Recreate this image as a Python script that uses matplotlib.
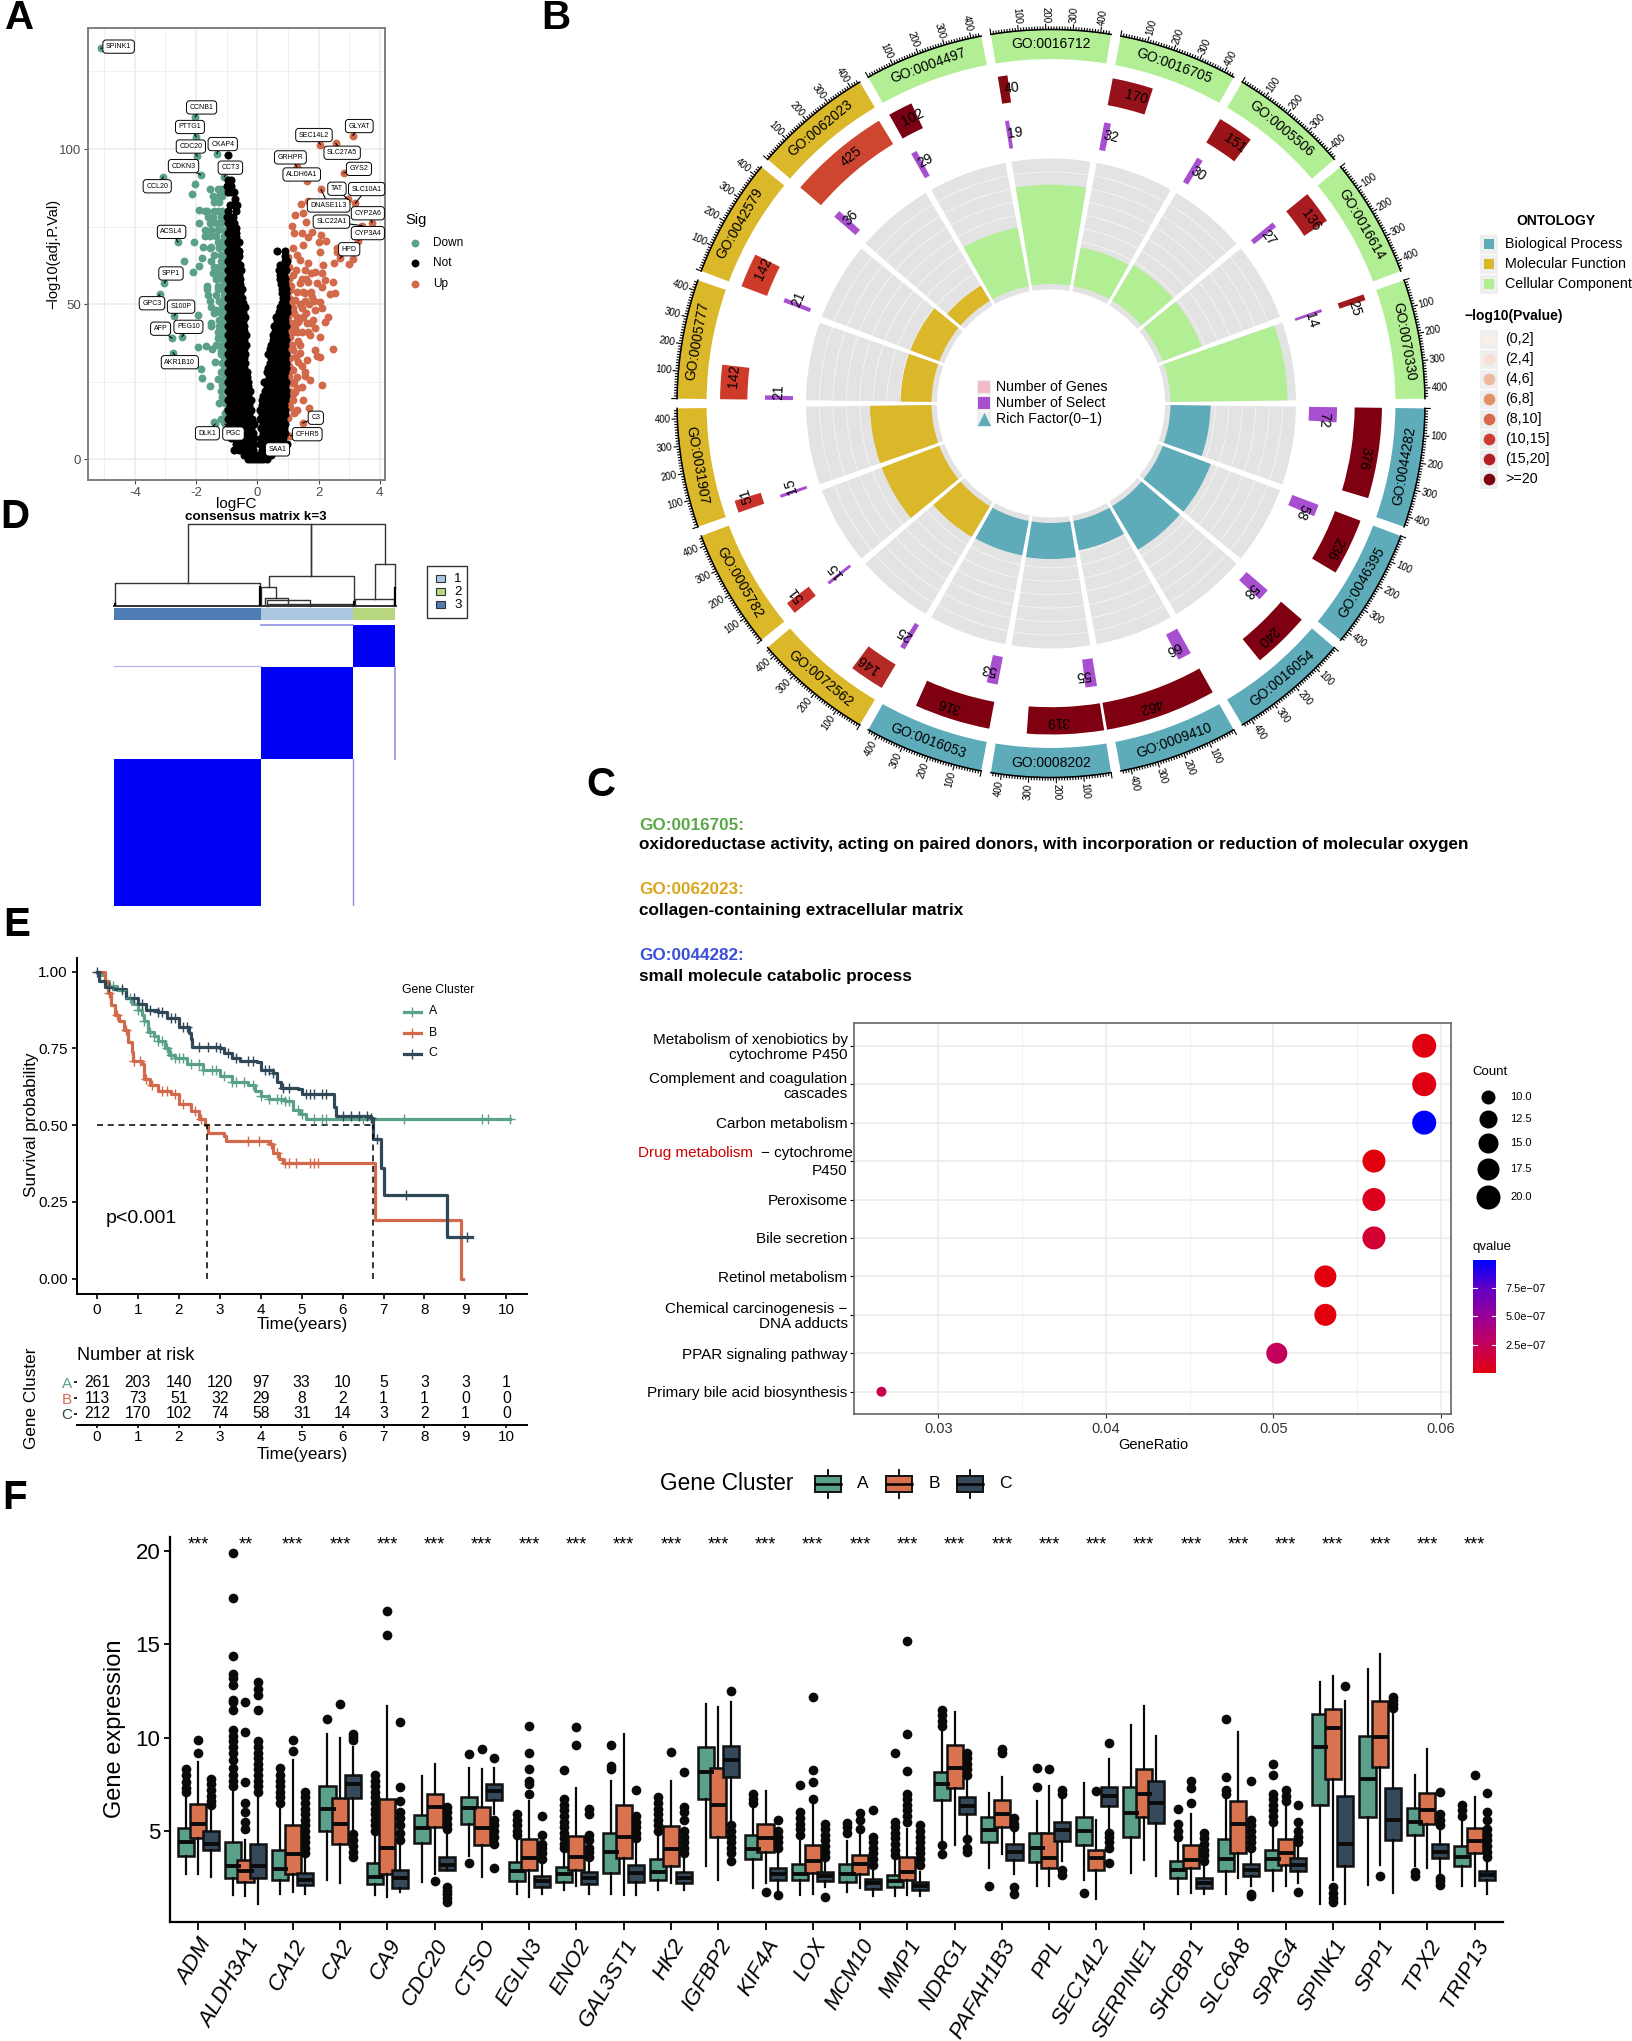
"""plot.py - six panel HCC figure: volcano, GO circos, GO text + KEGG dots, consensus, KM, boxplots"""
import numpy as np
import matplotlib
matplotlib.use("Agg")
import matplotlib.pyplot as plt
from matplotlib.patches import Rectangle
from matplotlib.colors import LinearSegmentedColormap, Normalize
from matplotlib.cm import ScalarMappable

plt.rcParams['font.family'] = ['Liberation Sans', 'DejaVu Sans']
plt.rcParams['axes.unicode_minus'] = False

W, H = 1633, 2041
GREEN, ORANGE, NAVY = '#5BA08A', '#D2694A', '#2F4757'

# ---- A: volcano ----
down_x = [-5.12,-2.03,-1.99,-1.96,-1.33,-1.85,-1.09,-3.07,-2.59,-3.04,-3.18,-2.72,-2.79,-2.46,-2.75,-1.38,-1.06,
          -2.04,-2.12,-1.9,-2.07,-1.76,-1.52,-1.82,-2.39,-1.92,-2.11,-1.63,-1.93,-1.51,-1.93,-1.69,-1.47,-1.84,-1.82,-1.55,-1.38,
          -1.55,-1.3,-1.2,-1.45,-1.25,-1.15,-1.4,-1.25,-1.7,-1.65,-1.4,-1.3,-1.15,-1.6,-1.45,-1.2,-1.05,-1.9,-1.55,-1.35,-1.2,
          -1.7,-1.5,-1.3,-1.1,-1.7,-1.55,-1.35,-1.3,-1.2,-1.05,-1.55,-1.25,-1.05,-1.4,-1.2,-1.5,-1.2,-1.05,-1.4,-1.25,-1.1,
          -1.45,-1.3,-1.05,-1.35,-1.15,-1.65,-1.3,-1.15,-1.6,-1.35,-1.1,-1.55,-1.25,-1.5,-1.15,-1.4,-1.2,-1.05,-1.1,-1.25,
          -1.5,-1.25,-1.05,-1.3,-1.1,-1.3,-1.1,-1.35,-1.15,-1.2,-1.05,-1.0,-1.1,-1.15,-1.05,-1.2,-1.05,-1.3,-1.1,-1.15,-1.0,
          -1.2,-1.25,-1.05,-1.0,-1.2,-1.05,-1.4,-1.1,
          -1.1,-1.05,-1.15,-1.05,-1.1,-1.3,-1.05,-1.15,-1.35,-1.1,-1.2,-1.05,-1.25,-1.1,-1.05,-1.2,-1.1,-1.05,-1.15,-1.05]
down_y = [132.5,110.3,103.9,97.7,98.5,91.7,90.9,91,70,56.8,53.2,46.2,39,39.5,34.4,11.4,11.4,
          88.7,85.4,80.3,70,68.5,68.5,64.8,63.9,62.4,60.5,56,46.5,43.8,36.3,36.6,35.4,29,26.1,23.7,31.5,
          87,87,87,85,85,85,83,83,80,80,80,80,80,78,78,78,78,76,76,76,76,
          74,74,74,74,72,72,72,70,70,70,68,68,68,66,66,64,64,64,62,62,62,
          60,60,60,58,58,55,55,55,53,53,53,51,51,49,49,47,47,47,45,45,
          43,43,43,41,41,39,39,37,37,35,35,33,33,31,31,28,28,26,26,24,24,
          22,18,18,16,13,13,12,12,
          72,66,59,57,56,56,52,50,48,46,44,42,40,38,36,34,29,27,20,15]
up_x = [3.12,2.06,2.56,1.29,1.63,2.82,2.08,2.95,3.2,3.75,3.43,3.3,2.7,1.48,1.08,
        1.42,1.67,1.23,1.5,1.59,1.12,1.2,1.45,1.78,1.67,2.08,2.24,2,2.05,2.6,2.6,2.5,3,3.14,1.18,1.5,1.29,1.01,1.39,1.67,
        2.16,1.56,1.88,2.1,2.21,2.46,1.18,1.39,1.67,1.94,2.1,2.54,2.37,1.07,1.56,1.78,2.05,1.23,1.45,1.18,2.1,2.32,2.21,
        1.83,1.01,1.34,1.61,1.23,1.45,1.88,1.72,2.05,1.07,1.34,1.18,1.39,1.88,2.46,1.94,2.05,1.07,1.34,1.61,1.18,1.56,
        1.29,1.72,2.1,1.12,1.45,1.23,1.5,1.18,1.07,1.7,1.01,
        1.1,1.2,1.3,1.05,1.5,1.6,1.4,1.55,1.7,1.75,1.3,1.45,1.25,1.6,1.75,1.85,1.9,1.3,1.65,1.75,1.1,1.25,1.4,1.15,1.5,
        1.05,1.02,1.1,1.03,1.08,1.2,1.02,1.12,1.35,1.02,1.1,1.45,1.05,1.3,1.55,1.05,1.2,1.15,1.02,1.2,1.3]
up_y = [104.3,101.4,101.9,94.3,89.6,92.3,87,83.8,82.5,76.2,75.3,70.5,64.8,11.7,7.6,
        82.3,83.2,78.7,79.3,76.6,75.2,73,72.8,73.4,71.7,72.3,70.5,70,66.9,68,66.9,63.4,62.9,64.5,68,69,65.8,65.3,64.2,63.2,
        62.6,61,60.5,59.9,57.8,57.2,59.4,56.7,57.2,56.7,55.6,53.5,53.2,54.6,53.5,52.4,50.8,51.3,48.7,48.7,48.7,46,44.4,
        44.9,46,44.4,43.8,42.2,41.1,42.2,40,39.5,39.5,38.2,35.2,34.2,35.2,35.4,33.3,33,32.5,31.5,32,28.8,28.2,
        26.6,25.6,24,24.5,23.4,21.8,19.1,19.1,17,16.4,13.2,
        50,47,46,44,46,47,50,51,50,54,54,58,61,58,60,51,48,41,41,44,36,33,37,41,54,
        62,58,56,52,48,44,42,37,45,30,29,30,27,23,27,22,25,21,18,15,16]
not_y = [0, 1.5, 3, 5, 7, 8.5, 10, 11.5, 13, 14.5, 16, 17.5, 19, 20.5, 22, 23.5, 25, 26.5, 28, 29.5, 31, 32.5, 34, 35.5, 37, 38.5, 40,
         41.5, 43, 44.5, 46, 47.5, 49, 50.5, 52, 53.5, 55, 56.5, 58, 59.5, 61, 62.5, 64, 65.5, 67, 68.5, 70, 71.5, 73, 74.5, 76, 78, 80,
         82, 84, 86, 88, 90, 98]
not_x = [[-.3,-.2,-.1,0,.1,.2,.3], [-.45,-.3,-.15,0,.15,.3,.45], [-.75,-.6,-.45,-.3,-.15,.15,.3,.45,.6],
         [-.7,-.55,-.4,-.25,-.1,.1,.25,.4,.55,.7,.85,.96], [-.85,-.7,-.55,-.4,-.25,-.12,.12,.25,.4,.55,.7,.85],
         [-.88,-.72,-.58,-.42,-.28,-.14,.18,.32,.48,.62,.78,.92],
         [-.95,-.8,-.65,-.5,-.35,-.2,.12,.25,.4,.55,.7,.88], [-.88,-.72,-.58,-.42,-.28,-.12,.18,.32,.48,.62,.78,.92],
         [-.95,-.8,-.65,-.5,-.35,-.18,.1,.25,.4,.55,.7,.85], [-.88,-.72,-.58,-.42,-.26,.15,.32,.48,.62,.78,.9],
         [-.95,-.8,-.65,-.5,-.35,-.2,.08,.2,.35,.5,.65,.8,.92], [-.88,-.72,-.58,-.42,-.28,.14,.28,.42,.58,.72,.86],
         [-.95,-.8,-.65,-.5,-.35,-.22,.15,.3,.45,.6,.75,.9], [-.88,-.72,-.58,-.42,-.3,.2,.35,.5,.65,.82,.95],
         [-.95,-.8,-.65,-.5,-.35,-.25,.25,.4,.55,.7,.85,.95], [-.88,-.72,-.58,-.42,-.3,.3,.45,.62,.78,.9],
         [-.95,-.8,-.65,-.5,-.32,.22,.35,.5,.65,.8,.95], [-.88,-.72,-.58,-.42,-.33,.38,.55,.7,.88],
         [-.95,-.8,-.65,-.5,-.35,.3,.45,.6,.75,.9], [-.88,-.72,-.58,-.42,.35,.52,.68,.82,.95],
         [-.95,-.8,-.65,-.5,-.4,.4,.55,.7,.85,.95], [-.88,-.72,-.58,-.44,.45,.62,.78,.9],
         [-.95,-.8,-.65,-.5,-.4,.35,.5,.65,.8,.95], [-.88,-.72,-.58,-.44,.42,.58,.72,.88],
         [-.95,-.8,-.65,-.5,-.38,.45,.6,.75,.9], [-.88,-.72,-.58,-.44,.52,.68,.82,.95],
         [-.95,-.8,-.65,-.5,-.38,.5,.6,.75,.9], [-.88,-.72,-.58,-.45,.58,.72,.88],
         [-.95,-.8,-.65,-.5,-.42,.55,.7,.85,.95], [-.88,-.72,-.58,-.46,.65,.8,.92],
         [-.95,-.8,-.65,-.5,-.4,.6,.75,.9], [-.88,-.72,-.58,-.46,.7,.85,.96],
         [-.95,-.8,-.65,-.5,-.4,.75,.9,.98], [-.88,-.72,-.58,-.46,.8,.92],
         [-.95,-.8,-.65,-.5,.85,.95], [-.88,-.72,-.58,.82,.94],
         [-.95,-.8,-.65,-.5,.8,.95], [-.88,-.72,-.58,.78,.92],
         [-.95,-.8,-.65,-.55,.75,.9], [-.88,-.72,-.6,.74,.88],
         [-.95,-.8,-.65,-.52,.72,.85,.95], [-.88,-.72,-.58,.75,.9],
         [-.95,-.8,-.65,.9,.97], [-.88,-.72,-.6,.9],
         [-.95,-.8,-.6,.63,.9], [-.88,-.7],
         [-.95,-.8,-.6], [-.88,-.7], [-.95,-.75,-.7], [-.88,-.68], [-.95,-.85,-.75],
         [-.98,-.78], [-.95,-.7], [-.9,-.75,-.65], [-.72], [-.95,-.85,-.75], [-1.0,-.85], [-.95,-.85], [-.96]]
lab_names = ['SPINK1','CCNB1','PTTG1','CDC20','CKAP4','CDKN3','CCT3','CCL20','ACSL4','SPP1','GPC3','S100P','AFP','PEG10',
             'AKR1B10','DLK1','PGC','SAA1','CFHR5','C3','HPD','CYP3A4','SLC22A1','CYP2A6','SLC10A1','DNASE1L3','TAT',
             'ALDH6A1','GYS2','GRHPR','SLC27A5','SEC14L2','GLYAT']
lab_px = [-5.12,-2.03,-1.99,-1.96,-1.33,-1.85,-1.09,-3.07,-2.59,-3.04,-3.18,-2.72,-2.79,-2.46,-2.75,-1.38,-1.06,.96,1.08,1.48,
          2.7,3.3,3.43,3.75,3.2,2.08,2.95,1.63,2.82,1.29,2.56,2.06,3.12]
lab_py = [132.5,110.3,103.9,97.7,98.5,91.7,90.9,91,70,56.8,53.2,46.2,39,39.5,34.4,11.4,11.4,6.4,7.6,11.7,64.8,70.5,75.3,76.2,
          82.5,87,83.8,89.6,92.3,94.3,101.9,101.4,104.3]
lab_x = [-4.53,-1.82,-2.2,-2.17,-1.13,-2.41,-.88,-3.27,-2.8,-2.82,-3.44,-2.49,-3.16,-2.25,-2.53,-1.63,-.78,.66,1.63,1.91,3.0,
         3.61,2.42,3.61,3.57,2.33,2.6,1.45,3.32,1.08,2.77,1.85,3.33]
lab_y = [133,113.4,107.1,100.8,101.6,94.5,94,88,73.3,59.9,50.3,49.2,42.1,42.7,31.3,8.4,8.3,3.2,8.1,13.4,67.7,72.9,76.6,79.3,
         87.1,81.8,87.2,91.8,93.6,97.3,98.8,104.5,107.4]

# ---- B: GO circos ----
go_ids = ['GO:0016712','GO:0016705','GO:0005506','GO:0016614','GO:0070330','GO:0044282','GO:0046395','GO:0016054','GO:0009410',
          'GO:0008202','GO:0016053','GO:0072562','GO:0005782','GO:0031907','GO:0005777','GO:0042579','GO:0062023','GO:0004497']
go_class = ['CC','CC','CC','CC','CC','BP','BP','BP','BP','BP','BP','MF','MF','MF','MF','MF','MF','CC']
go_genes = [40,170,151,136,25,376,236,240,462,319,316,146,51,51,142,142,425,102]
go_select = [19,32,30,27,14,72,58,58,66,55,53,25,15,15,21,21,36,29]
go_colors = ['#830A12','#96121A','#9B1418','#A81C20','#A01A1E','#7F0010','#7F0010','#7F0010','#7F0010','#7F0010','#7F0010',
             '#B52A25','#C8322A','#C8322A','#CE3B2B','#CE3B2B','#CF4630','#7A0013']
class_colors = {'BP': '#5EACBA', 'MF': '#DBB72A', 'CC': '#B1EE94'}
pval_labels = ['(0,2]','(2,4]','(4,6]','(6,8]','(8,10]','(10,15]','(15,20]','>=20']
pval_colors = ['#FBEFE9','#F7DFD3','#EFB99D','#E39069','#D9694B','#CF3A2E','#B51E23','#7F0010']

# ---- C: KEGG dots ----
kegg_terms = ['Primary bile acid biosynthesis','PPAR signaling pathway','Chemical carcinogenesis \u2212\nDNA adducts','Retinol metabolism',
              'Bile secretion','Peroxisome','\nP450','Carbon metabolism','Complement and coagulation\ncascades',
              'Metabolism of xenobiotics by\ncytochrome P450']
kegg_ratio = [.0266,.0502,.0531,.0531,.056,.056,.056,.059,.059,.059]
kegg_count = [9,17,18,18,19,19,19,20,20,20]
kegg_q = [2.2e-7,2.6e-7,1e-8,1e-8,1.3e-7,6e-8,1e-8,9.9e-7,3e-8,2e-8]
count_levels = [10,12.5,15,17.5,20]
count_px = [14,18,20,22,24]

# ---- D: consensus ----
cons_sizes = [147, 92, 42]
cons_matrix = [[1,0,0],[0,1,0],[0,0,1]]
cons_bar = ['#4F7CB3','#ACC8E0','#B8D67E']
dend_xl = [73.7,196.7,1.3,154.7,147,151,153,154,260.7,241]
dend_xr = [196.7,271,146,240,162,174,196,237.7,281,280]
dend_yl = [.276,.37,.03,.236,0,.03,0,0,.08,0]
dend_yr = [.37,.508,.03,.05,.093,.03,0,0,.215,0]
dend_top = [1,1,.276,.37,.236,.093,.069,.024,.508,.08]

# ---- E: survival ----
km_a_t = [0,.1,.2,.3,.5,.7,.85,1,1.1,1.15,1.25,1.4,1.5,1.65,1.75,1.9,2.2,2.6,3,3.3,3.7,3.85,4.0,4.2,4.6,4.8,4.95,5.1,10.1]
km_a_s = [1,.99,.97,.955,.94,.915,.895,.875,.86,.84,.805,.79,.775,.75,.73,.72,.7,.68,.66,.64,.63,.61,.595,.585,.58,.55,.535,.52,.52]
km_b_t = [0,.1,.2,.28,.35,.45,.55,.65,.75,.85,.88,1.1,1.15,1.3,1.5,1.8,2,2.3,2.5,2.65,2.7,3.1,3.15,4.2,4.3,4.45,4.55,6.8,8.9,8.95]
km_b_s = [1,1,.97,.93,.89,.86,.84,.81,.77,.74,.71,.7,.65,.63,.61,.6,.57,.545,.52,.5,.475,.465,.447,.44,.41,.39,.378,.19,0,0]
km_c_t = [0,.05,.2,.4,.7,1,1.2,1.5,1.7,2,2.25,2.3,2.33,3,3.1,3.3,3.5,3.9,4,4.3,4.4,4.5,4.9,5,5.8,5.85,6.7,6.75,6.95,7,8.55,9.15]
km_c_s = [1,.97,.95,.945,.915,.895,.875,.87,.85,.82,.8,.78,.755,.75,.735,.72,.71,.705,.68,.67,.64,.62,.617,.603,.56,.53,.525,.455,.36,.272,.135,.135]
cens_a = [.4,.6,.8,1,1.15,1.3,1.4,1.5,1.6,1.7,1.8,1.9,2,2.1,2.3,2.5,2.6,2.8,2.9,3.1,3.3,3.4,3.6,3.8,4,4.2,4.4,4.5,4.6,4.7,4.9,5,
          5.3,5.5,5.6,6.5,7.5,9.4,9.55,10.1]
cens_b = [.3,.5,.7,.9,1.05,1.2,1.35,1.6,1.7,1.9,2.1,2.4,2.55,3.7,3.95,4.25,4.4,4.6,4.7,4.85,5.2,5.3,5.4]
cens_c = [0,.3,.6,.9,1.1,1.3,1.5,1.6,1.8,1.9,2.1,2.2,2.5,2.7,2.9,3,3.2,3.4,3.7,3.8,4.1,4.2,4.3,4.55,4.7,5.1,5.2,5.3,5.5,5.6,6,6.2,6.4,
          6.6,6.7,6.85,7.55,9.05]
risk_ticks = [0,1,2,3,4,5,6,7,8,9,10]
risk_a = [261,203,140,120,97,33,10,5,3,3,1]
risk_b = [113,73,51,32,29,8,2,1,1,0,0]
risk_c = [212,170,102,74,58,31,14,3,2,1,0]

# ---- F: boxplots ----
genes = ['ADM','ALDH3A1','CA12','CA2','CA9','CDC20','CTSO','EGLN3','ENO2','GAL3ST1','HK2','IGFBP2','KIF4A','LOX','MCM10','MMP1','NDRG1',
         'PAFAH1B3','PPL','SEC14L2','SERPINE1','SHCBP1','SLC6A8','SPAG4','SPINK1','SPP1','TPX2','TRIP13']
sig_marks = ['***','**'] + ['***'] * 26
lo_a = [2.7,1.55,1.65,2.4,1.55,2.26,3.67,1.65,1.85,1.6,1.85,3.15,1.94,1.55,1.75,1.5,4.44,3,2.03,2.38,2.76,1.65,1.65,1.78,1.07,2.13,3.15,2.07]
q1_a = [3.67,2.46,2.38,4.98,2.15,4.35,5.4,2.34,2.28,2.76,2.4,6.7,3.48,2.38,2.28,2,6.68,4.4,3.32,4.25,4.7,2.48,2.84,2.9,6.37,5.73,4.8,3.1]
med_a = [4.4,3.1,2.96,6.2,2.55,5.15,6.25,2.86,2.67,3.9,2.8,8.16,4.05,2.7,2.7,2.32,7.5,5.06,4.11,5.02,5.98,2.9,3.48,3.48,9.49,7.77,5.5,3.6]
q3_a = [5.17,4.4,4,7.4,3.28,5.85,6.8,3.34,3.07,4.9,3.48,9.5,4.77,3.25,3.25,2.65,8.16,5.73,4.88,5.75,7.37,3.38,4.58,3.96,11.28,10.1,6.23,4.19]
hi_a = [6.85,7.2,6.2,10.2,4.7,7.95,8.4,4.6,3.96,7.7,4.73,11.8,6.2,4.5,4.44,3.48,10.3,7.04,6.62,7.56,10.66,4.53,6.85,5.2,13,13.7,8,5.5]
lo_b = [2.7,1.5,1.75,2.2,1.45,2.7,2.55,1.45,2.03,1.55,2.2,2.36,2.2,1.65,1.94,1.55,4.25,3.77,2.03,1.36,3.42,1.7,2.5,2.03,2.4,3.2,3.03,2.07]
q1_b = [4.63,2.28,2.67,4.3,2.67,5.2,4.27,2.9,2.9,3.57,3.15,4.7,3.9,2.75,2.7,2.36,7.3,5.2,3,2.9,5.73,3,3.82,3.2,7.76,8.43,5.4,3.82]
med_b = [5.4,2.86,3.77,5.4,4.1,6.3,5.17,3.57,3.6,4.7,4.05,6.37,4.63,3.38,3.23,2.8,8.35,5.89,3.57,3.57,7,3.46,5.37,3.8,10.5,10.03,6.14,4.48]
q3_b = [6.45,3.44,5.3,6.75,6.7,7,6.27,4.58,4.73,6.4,5.25,8.35,5.35,4.25,3.7,3.63,9.6,6.64,4.88,4,8.33,4.25,6.62,4.58,11.53,11.96,7.04,5.15]
hi_b = [8.7,4.5,8.8,10,11.7,8.6,8.3,6.6,7.33,10.2,7.66,11.67,7.14,6.46,4.92,5.1,11.4,7.9,7.39,5.6,11.7,5.89,10.28,6.37,13.3,14.5,9.4,6.8]
lo_c = [2.55,1.07,1.65,5,1.75,3,5.9,1.65,1.65,1.55,1.85,5.5,1.85,2,1.5,1.5,4.83,2.7,3.38,5.02,2.6,1.6,2.03,2.23,1.07,1.7,2.7,1.65]
q1_c = [3.96,2.46,2.1,6.75,1.94,2.9,6.68,2,2.17,2.28,2.2,7.9,2.36,2.32,1.9,1.84,5.9,3.46,4.48,6.33,5.44,1.97,2.57,2.84,3.15,4.5,3.54,2.36]
med_c = [4.3,3.1,2.4,7.5,2.5,3.2,7.14,2.32,2.48,2.76,2.5,8.8,2.67,2.57,2.2,2.03,6.33,3.86,5.06,6.85,6.5,2.23,2.9,3.2,4.29,5.6,3.9,2.65]
q3_c = [4.98,4.29,2.76,8,2.9,3.63,7.5,2.6,2.8,3.2,2.8,9.55,3,2.8,2.42,2.26,6.8,4.29,5.5,7.37,7.66,2.46,3.23,3.54,6.85,7.3,4.33,2.88]
hi_c = [6.27,6.85,3.6,9.5,4.25,5,8.4,3.4,3.4,4.5,3.5,11.9,3.96,3.4,3,2.8,7.8,5.3,6.75,8.87,10.1,3.38,3.86,4.34,11.96,11.47,5.1,3.57]
out_a = [[8.3,8,7.6,7.3,7.1],[19.9,17.5,14.4,13.4,13.2,12.8,12,11.9,11.5,10.4,10.1,9.8,9.5,9.2,8.8,8.4,8,7.7,7.4],[8.4,8,7.7,7.4,7.1,6.8,6.5],
         [11],[8,7.7,7.4,7.1,6.8,6.5,6.2,5.9,5.6,5.3,5],[],[9.15,3.3],[5.9,5.6,5.3,5,4.8],[8.25,6.7,6.4,6.1,5.8,5.5,5.2,4.9,4.6,4.3,4.1],
         [9.6,8.5,8.3],[6.8,6.5,6.2,5.9,5.6,5.3,5],[],[7,6.7,6.5],[7.45,6,5.7,5.4,5.1,4.8],[5.45,5.2,4.9],
         [9.2,5.5,5.2,4.9,4.6,4.3,4,3.7],[11.47,11.2,10.9,10.6,4.25,3.77],[2.05],[8.4,7.35],[1.7],[],[6.2,5.4,5,4.7],[11,7.9,7.2,7],
         [8.6,8,7,6.7,6.4,6.1,5.8,5.5],[],[],[2.8,2.6],[6.4,6.1,5.8]]
out_b = [[9.87,9.2],[11.9,10.3,7.6,6.5,6,5.5,5.1],[9.85,9.3],[11.8],[16.8,15.5],[2.3],[9.4],[10.65,9.2,8.3,7.7,7.5,7],[10.55,9.6],[],[9.25],[],
         [1.75],[12.2,8.25,7.65,6.7],[5.98,5.6,5.1],[15.2,10.2,8.2,7,6.7,6.4,6.1,5.8,5.5],[],[9.4,9.2],[8.3],[7.14],[],[7.7,7.3,6.5],[],[7.2,6.9,6.6],
         [2,1.7,1.4,1.2],[2.6],[],[8]]
out_c = [[7.8,7.5,7.2,6.9,6.6,6.4],[13,12.6,12.3,11.5,9.8,9.5,9.2,8.9,8.6,8.3,8,7.7,7.4,7.1],[7.1,6.8,6.5,6.2,5.9,5.6,5.3,5,4.7,4.4,4.1,3.8],
         [10.2,10.05,9.9,4.85,4.5,4.2,3.9,3.6],[10.85,7.35,6.6,6,5.7,5.3,4.9,4.5],[6.3,6,5.7,5.4,5.1,2,1.8,1.6,1.4,1.2],[8.9,5.6,5.3,5,4.7,4.3,3],
         [5.8,4.8,4.3,4.1,3.8,3.5],[6.2,5.9,4.8,4.5,4.1,3.9,3.6],[7.2,5.8,5.5,5.2,4.9,4.6],[8.15,6.3,6,5.6,5,4.7,4.4,4.1,3.8],
         [12.5,5.3,5,4.7,4.4,4.1,3.8,3.4],[5.6,5,4.7,4.4,4.1,1.55],[5.4,5.1,4.8,4.5,4.2,3.9,3.6,1.45],[6.1,4.7,4.4,4.1,3.8,3.5,3.2],
         [5.3,5,4.7,4.4,4.1,3.8,3.5,3.2],[9.2,8.9,8.6,8.3,8,4.55,4.1,3.9],[5.7,5.4,5.2,2,1.6],[7.2,7,2.9,2.65],[9.7,4.9,4.7,4.4,4.1,3.3],[],
         [4.9,4.6,4.3,4,3.7,3.4],[7.7,5.6,5.3,5,4.7,4.4,4.1,1.65,1.5],[6.4,5.5,5,4.7,4.4,1.75],[12.75],[12.2,12,11.8,11.6],
         [7.1,5.9,5.6,5.3,2.5,2.3,2.1],[7.05,6,5.6,5.1,4.8,4.5,4.2,3.9,3.6]]


fig = plt.figure(figsize=(W / 100, H / 100), dpi=100)

def box(l, t, r, b, **kw):
    return fig.add_axes([l / W, 1 - b / H, (r - l) / W, (b - t) / H], **kw)

page = box(0, 0, W, H, zorder=10)
page.set_xlim(0, W); page.set_ylim(H, 0); page.axis('off'); page.patch.set_alpha(0)

for s, x, y in [('A', 5, 18), ('B', 541, 18), ('C', 586, 785), ('D', 0, 517), ('E', 3, 925), ('F', 2, 1498)]:
    page.text(x, y, s, fontsize=29, fontweight='bold', ha='left', va='center')

# ---- Panel A ----
ax = box(88, 28, 385, 480)
ax.set_xlim(-5.53, 4.17); ax.set_ylim(-6.66, 139)
ax.set_axisbelow(True)
ax.set_xticks([-4, -2, 0, 2, 4]); ax.set_xticks([-5, -3, -1, 1, 3], minor=True)
ax.set_yticks([0, 50, 100]); ax.set_yticks([25, 75, 125], minor=True)
ax.grid(which='major', color='#EBEBEB', lw=1.1); ax.grid(which='minor', color='#F0F0F0', lw=.7)
ax.tick_params(which='minor', length=0)
ax.tick_params(labelsize=9.5, colors='#4D4D4D', length=3, pad=2)
for sp in ax.spines.values():
    sp.set_color('#7F7F7F'); sp.set_linewidth(1.4)
nx = [v for row in not_x for v in row]
ny = [y for y, row in zip(not_y, not_x) for _ in row]
ax.scatter(down_x, down_y, s=32, c=GREEN, lw=0, zorder=3)
ax.scatter(up_x, up_y, s=32, c=ORANGE, lw=0, zorder=3)
ax.scatter(nx, ny, s=34, c='black', lw=0, zorder=3)
for n, px, py, lx, ly in zip(lab_names, lab_px, lab_py, lab_x, lab_y):
    ax.annotate(n, xy=(px, py), xytext=(lx, ly), fontsize=5, ha='center', va='center', zorder=5,
                bbox=dict(boxstyle='round,pad=0.45', fc='white', ec='black', lw=.7),
                arrowprops=dict(arrowstyle='-', color='black', lw=.8, shrinkA=0, shrinkB=0))
page.text(236, 504, 'logFC', fontsize=11, ha='center', va='center')
page.text(53, 254, '\u2212log10(adj.P.Val)', fontsize=10.5, rotation=90, ha='center', va='center')
page.text(405, 220, 'Sig', fontsize=10.5, ha='left', va='center')
for y, c, t in zip([242.7, 263, 284], [GREEN, 'black', ORANGE], ['Down', 'Not', 'Up']):
    page.scatter([415], [y], s=32, c=c, lw=0)
    page.text(432.7, y, t, fontsize=8.5, ha='left', va='center')

# ---- Panel B ----
cx, cy, R = 1051, 403.5, 374
pol = box(cx - R, cy - R, cx + R, cy + R, projection='polar')
pol.set_theta_zero_location('N'); pol.set_theta_direction(-1)
pol.set_ylim(0, 1); pol.axis('off')
DEG_PER = 0.0422
for i, g in enumerate(go_ids):
    start = -10 + 20 * i + .75
    th0 = np.radians(start)
    mid = start + 9.25
    colr = class_colors[go_class[i]]
    # outer track and its label
    pol.bar(th0, 1 - .921, np.radians(18.5), .921, align='edge', color=colr, lw=0)
    rot = -mid if -90 <= ((mid + 180) % 360 - 180) <= 90 else 180 - mid
    pol.text(np.radians(mid), .96, g, fontsize=10, ha='center', va='center', rotation=rot, rotation_mode='anchor')
    # axis with ticks
    ends = np.radians(np.linspace(start, start + 18.5, 40))
    pol.plot(ends, np.ones(40), color='black', lw=1.1, clip_on=False)
    for v in range(0, 440, 10):
        t = np.radians(start + v * DEG_PER)
        major = v % 100 == 0
        pol.plot([t, t], [1, 1.014 if major else 1.007], color='black', lw=.8, clip_on=False)
        if major and v > 0:
            a = start + v * DEG_PER
            am = (a + 180) % 360 - 180
            r = 90 - a if am >= 0 else -90 - a
            pol.text(t, 1.04, str(v), fontsize=7, ha='center', va='center', rotation=r, rotation_mode='anchor', clip_on=False)
    # genes and select bars
    pol.bar(th0, .885 - .812, np.radians(go_genes[i] * DEG_PER), .812, align='edge', color=go_colors[i], lw=0)
    pol.bar(th0, .765 - .69, np.radians(go_select[i] * DEG_PER), .69, align='edge', color='#A84FD0', lw=0)
    pol.text(np.radians(start + (go_genes[i] / 2 + 30) * DEG_PER), .85, str(go_genes[i]), fontsize=10, ha='center', va='center',
             rotation=-(start + (go_genes[i] / 2 + 30) * DEG_PER), rotation_mode='anchor')
    pol.text(np.radians(start + (go_select[i] / 2 + 30) * DEG_PER), .73, str(go_select[i]), fontsize=10, ha='center', va='center',
             rotation=-(start + (go_select[i] / 2 + 30) * DEG_PER), rotation_mode='anchor')
    # rich factor track
    pol.bar(th0, .655 - .305, np.radians(18.5), .305, align='edge', color='#E3E3E3', lw=0)
    for k in range(1, 9):
        pol.plot(ends, np.full(40, .655 - k * .036), color='#F6F6F6', lw=.6)
    rich = go_select[i] / go_genes[i]
    pol.bar(th0, rich / .6 * (.655 - .3195), np.radians(18.5), .3195, align='edge', color=colr, lw=0, zorder=3)

for y, c, t, m in zip([387, 403, 419], ['#F1BBC8', '#A84FD0', '#5EACBA'],
                      ['Number of Genes', 'Number of Select', 'Rich Factor(0\u22121)'], ['s', 's', '^']):
    page.add_patch(Rectangle((977, y - 7.5), 14, 15, fc='#EFEFEF', ec='none'))
    page.scatter([984], [y], s=75 if m == 's' else 90, c=c, marker=m, lw=0)
    page.text(996, y, t, fontsize=10.2, ha='left', va='center')
page.text(1556, 221, 'ONTOLOGY', fontsize=10, fontweight='bold', ha='center', va='center')
for y, k, t in zip([244, 264, 284], ['BP', 'MF', 'CC'], ['Biological Process', 'Molecular Function', 'Cellular Component']):
    page.add_patch(Rectangle((1480, y - 9.5), 18, 19, fc='#EFEFEF', ec='none'))
    page.add_patch(Rectangle((1484, y - 5), 10, 10, fc=class_colors[k], ec='none'))
    page.text(1505.5, y, t, fontsize=10.3, ha='left', va='center')
page.text(1464, 316, '\u2212log10(Pvalue)', fontsize=10, fontweight='bold', ha='left', va='center')
for i, (t, c) in enumerate(zip(pval_labels, pval_colors)):
    y = 339 + 20 * i
    page.add_patch(Rectangle((1480, y - 9.5), 18, 19, fc='#EFEFEF', ec='none'))
    page.scatter([1489], [y], s=70, c=c, lw=0)
    page.text(1505.5, y, t, fontsize=10.3, ha='left', va='center')

# ---- Panel C ----
for y, s, c in [(825, 'GO:0016705:', '#5BA848'),
                (845, 'oxidoreductase activity, acting on paired donors, with incorporation or reduction of molecular oxygen', 'black'),
                (890, 'GO:0062023:', '#DBA520'), (911, 'collagen-containing extracellular matrix', 'black'),
                (956, 'GO:0044282:', '#3A50D8'), (977, 'small molecule catabolic process', 'black')]:
    page.text(639.5, y, s, color=c, fontsize=12.33, fontweight='bold', ha='left', va='center')

dot = box(854.5, 1022.7, 1451, 1414)
dot.set_xlim(.02499, .0606); dot.set_ylim(.42, 10.6)
dot.set_axisbelow(True)
dot.set_xticks([.03, .04, .05, .06]); dot.set_xticklabels(['0.03', '0.04', '0.05', '0.06'])
dot.set_xticks([.035, .045, .055], minor=True)
dot.set_yticks(range(1, 11)); dot.set_yticklabels(kegg_terms, fontsize=11, linespacing=1.1)
dot.grid(which='major', color='#EBEBEB', lw=1.1); dot.grid(which='minor', axis='x', color='#F0F0F0', lw=.6)
dot.tick_params(which='minor', length=0)
dot.tick_params(axis='x', labelsize=10.5, colors='#333333', length=3, pad=3)
dot.tick_params(axis='y', length=3, pad=2)
for sp in dot.spines.values():
    sp.set_color('#666666'); sp.set_linewidth(1.2)
q_cmap = LinearSegmentedColormap.from_list('q', ['#E3000B', '#C50058', '#9A0096', '#6200C5', '#0000FF'])
q_norm = Normalize(0, 9.9e-7)
dot_px = np.interp(kegg_count, [9, 10, 20], [10, 14, 24])
dot.scatter(kegg_ratio, range(1, 11), s=(dot_px * .72) ** 2, c=kegg_q, cmap=q_cmap, norm=q_norm, lw=0, zorder=3)
page.text(753, 1153, 'Drug metabolism', color='#CC0000', fontsize=11, ha='right', va='center')
page.text(761, 1153, '\u2212 cytochrome', fontsize=11, ha='left', va='center')
page.text(1153, 1445, 'GeneRatio', fontsize=10.5, ha='center', va='center')
page.text(1472.7, 1071.7, 'Count', fontsize=9.5, ha='left', va='center')
page.text(1472.7, 1247, 'qvalue', fontsize=9.5, ha='left', va='center')
for y, c, d in zip([1096.7, 1119, 1142.7, 1168.7, 1196.7], count_levels, count_px):
    page.scatter([1488], [y], s=(d * .72) ** 2, c='black', lw=0)
    page.text(1510, y, f'{c:.1f}', fontsize=8, ha='left', va='center')
cax = box(1472.7, 1260, 1496, 1372.7)
cb = fig.colorbar(ScalarMappable(norm=q_norm, cmap=q_cmap), cax=cax)
cb.ax.set_ylim(1.1e-8, 9.9e-7)
cb.set_ticks([2.5e-7, 5e-7, 7.5e-7]); cb.set_ticklabels(['2.5e\u221207', '5.0e\u221207', '7.5e\u221207'])
cb.outline.set_visible(False)
cb.ax.tick_params(labelsize=8, length=0, pad=7)
for v in [2.5e-7, 5e-7, 7.5e-7]:
    cb.ax.plot([0, .18], [v, v], color='white', lw=.8, transform=cb.ax.get_yaxis_transform())
    cb.ax.plot([.82, 1], [v, v], color='white', lw=.8, transform=cb.ax.get_yaxis_transform())

# ---- Panel D ----
heat = box(114, 625, 395, 905.7)
edges = np.concatenate([[0], np.cumsum(cons_sizes)])
heat.pcolormesh(edges, edges, np.array(cons_matrix), cmap=LinearSegmentedColormap.from_list('b', ['white', '#0000F5']), vmin=0, vmax=1)
heat.set_xlim(0, 281); heat.set_ylim(0, 281); heat.axis('off')
heat.plot([239, 239], [0, 147], color='#8F8FE0', lw=1)
heat.plot([281, 281], [147, 239], color='#8F8FE0', lw=1.2, clip_on=False)
heat.plot([0, 147], [240, 240], color='#B5B5EA', lw=.9)
heat.plot([147, 239], [281, 281], color='#8F8FE0', lw=1.2, clip_on=False)
bar = box(114, 607.7, 395, 620)
bar.barh([.5], cons_sizes[:1], left=0, height=1, color=cons_bar[0])
bar.barh([.5], cons_sizes[1:2], left=147, height=1, color=cons_bar[1])
bar.barh([.5], cons_sizes[2:], left=239, height=1, color=cons_bar[2])
bar.set_xlim(0, 281); bar.set_ylim(0, 1); bar.axis('off')
den = box(114, 524, 397, 606)
den.set_xlim(0, 283); den.set_ylim(0, 1); den.axis('off')
for xl, xr, yl, yr, top in zip(dend_xl, dend_xr, dend_yl, dend_yr, dend_top):
    den.plot([xl, xl, xr, xr], [yl, top, top, yr], color='#333333', lw=1, clip_on=False)
den.plot([0, 282], [0, 0], color='#333333', lw=1.4, clip_on=False)
for x, top in [(146.5, .236), (240, .05), (281.5, .215), (1.3, .03)]:
    den.plot([x, x], [0, top], color='black', lw=1.6)
page.text(255.5, 516.7, 'consensus matrix k=3', fontsize=9.7, fontweight='bold', ha='center', va='center')
page.add_patch(Rectangle((427, 565.7), 39.7, 52, fc='white', ec='#333333', lw=1))
for y, c, t in zip([578.7, 591.7, 604.7], [cons_bar[1], cons_bar[2], cons_bar[0]], ['1', '2', '3']):
    page.add_patch(Rectangle((436.5, y - 3.5), 9, 7, fc=c, ec='#333333', lw=.8))
    page.text(457.7, y + .5, t, fontsize=9.5, ha='center', va='center')

# ---- Panel E ----
km = box(76.8, 957.6, 526.8, 1294)
km.set_xlim(-.493, 10.5); km.set_ylim(-.05, 1.046)
for t, s, c, cens in [(km_a_t, km_a_s, GREEN, cens_a), (km_b_t, km_b_s, ORANGE, cens_b), (km_c_t, km_c_s, NAVY, cens_c)]:
    km.step(t, s, where='post', color=c, lw=2.3)
    idx = np.searchsorted(t, cens, side='right') - 1
    km.plot(cens, np.array(s)[idx], '+', color=c, ms=7, mew=1, zorder=3)
km.plot([0, 6.75], [.5, .5], color='black', lw=1.1, dashes=(4, 3))
km.plot([2.68, 2.68], [0, .5], color='black', lw=1.1, dashes=(4, 3))
km.plot([6.75, 6.75], [0, .5], color='black', lw=1.1, dashes=(4, 3))
km.set_xticks(range(0, 11)); km.set_yticks([0, .25, .5, .75, 1]); km.set_yticklabels(['0.00', '0.25', '0.50', '0.75', '1.00'])
km.tick_params(labelsize=11, length=3.5, width=1.2, pad=3)
km.spines[['top', 'right']].set_visible(False)
km.spines[['left', 'bottom']].set_linewidth(1.4)
page.text(105.7, 1218.6, 'p<0.001', fontsize=14, ha='left', va='center')
page.text(32, 1125, 'Survival probability', fontsize=12.3, rotation=90, ha='center', va='center')
page.text(302, 1324.5, 'Time(years)', fontsize=12.3, ha='center', va='center')
page.text(401.8, 990, 'Gene Cluster', fontsize=8.8, ha='left', va='center')
for y, c, t in zip([1011.5, 1032.7, 1053.5], [GREEN, ORANGE, NAVY], ['A', 'B', 'C']):
    page.plot([403.6, 420.7], [y, y], color=c, lw=2.3)
    page.plot([412], [y], '+', color=c, ms=7, mew=1)
    page.text(428.6, y, t, fontsize=8.8, ha='left', va='center')

rt = box(76.8, 1372, 526.8, 1425)
rt.set_xlim(-.493, 10.5); rt.set_ylim(.31, 3.63)
for row, vals in zip([3, 2, 1], [risk_a, risk_b, risk_c]):
    for t, v in zip(risk_ticks, vals):
        rt.text(t, row, str(v), fontsize=11.3, ha='center', va='center')
rt.set_xticks(risk_ticks); rt.set_yticks([3, 2, 1]); rt.set_yticklabels(['A', 'B', 'C'])
for lab, c in zip(rt.get_yticklabels(), [GREEN, ORANGE, NAVY]):
    lab.set_color(c)
rt.tick_params(labelsize=11, length=2.5, width=1.2, pad=1)
rt.spines[['top', 'right', 'left']].set_visible(False)
rt.spines['bottom'].set_linewidth(1.4)
page.text(77, 1355.8, 'Number at risk', fontsize=13, ha='left', va='center')
page.text(32, 1398, 'Gene Cluster', fontsize=12.3, rotation=90, ha='center', va='center')
page.text(302, 1454.6, 'Time(years)', fontsize=12.3, ha='center', va='center')

# ---- Panel F ----
bp = box(170, 1536.5, 1503, 1921.7)
bp.set_xlim(.403, 28.6); bp.set_ylim(.14, 20.78)
pos = np.arange(1, 29)
groups = [(lo_a, q1_a, med_a, q3_a, hi_a, out_a, GREEN, -.266), (lo_b, q1_b, med_b, q3_b, hi_b, out_b, '#D9724F', 0),
          (lo_c, q1_c, med_c, q3_c, hi_c, out_c, '#35495A', .266)]
for lo, q1, med, q3, hi, out, c, off in groups:
    stats = [dict(whislo=a, q1=b, med=m, q3=d, whishi=e, fliers=f) for a, b, m, d, e, f in zip(lo, q1, med, q3, hi, out)]
    bp.bxp(stats, positions=pos + off, widths=.34, patch_artist=True, showcaps=False, manage_ticks=False,
           boxprops=dict(facecolor=c, edgecolor='#111111', lw=1.8), medianprops=dict(color='#0A0A0A', lw=2.8),
           whiskerprops=dict(color='#0A0A0A', lw=1.6),
           flierprops=dict(marker='o', mfc='#0A0A0A', mec='#0A0A0A', ms=7, mew=0))
for p, m in zip(pos, sig_marks):
    bp.text(p, 20.35, m, fontsize=13, ha='center', va='center')
bp.set_xticks(pos); bp.set_xticklabels(genes, rotation=60, ha='right', rotation_mode='anchor', fontsize=16, fontstyle='italic')
bp.set_yticks([5, 10, 15, 20])
bp.tick_params(axis='y', labelsize=16, length=4, width=1.3, pad=3)
bp.tick_params(axis='x', length=6, width=1.3, pad=4)
bp.spines[['top', 'right']].set_visible(False)
bp.spines[['left', 'bottom']].set_linewidth(1.6)
page.text(115, 1729, 'Gene expression', fontsize=17, rotation=90, ha='center', va='center')
page.text(660, 1484, 'Gene Cluster', fontsize=16.3, ha='left', va='center')
for x, c, t in zip([828, 899.5, 970.5], [GREEN, '#D9724F', '#35495A'], ['A', 'B', 'C']):
    page.plot([x, x], [1470, 1498], color='black', lw=1.3)
    page.add_patch(Rectangle((x - 13, 1476), 26, 16, fc=c, ec='#111111', lw=1.4, zorder=3))
    page.plot([x - 13, x + 13], [1484, 1484], color='black', lw=1.8, zorder=4)
    page.text(x + 35, 1484, t, fontsize=12.5, ha='center', va='center')

fig.savefig('out.png', dpi=100)
